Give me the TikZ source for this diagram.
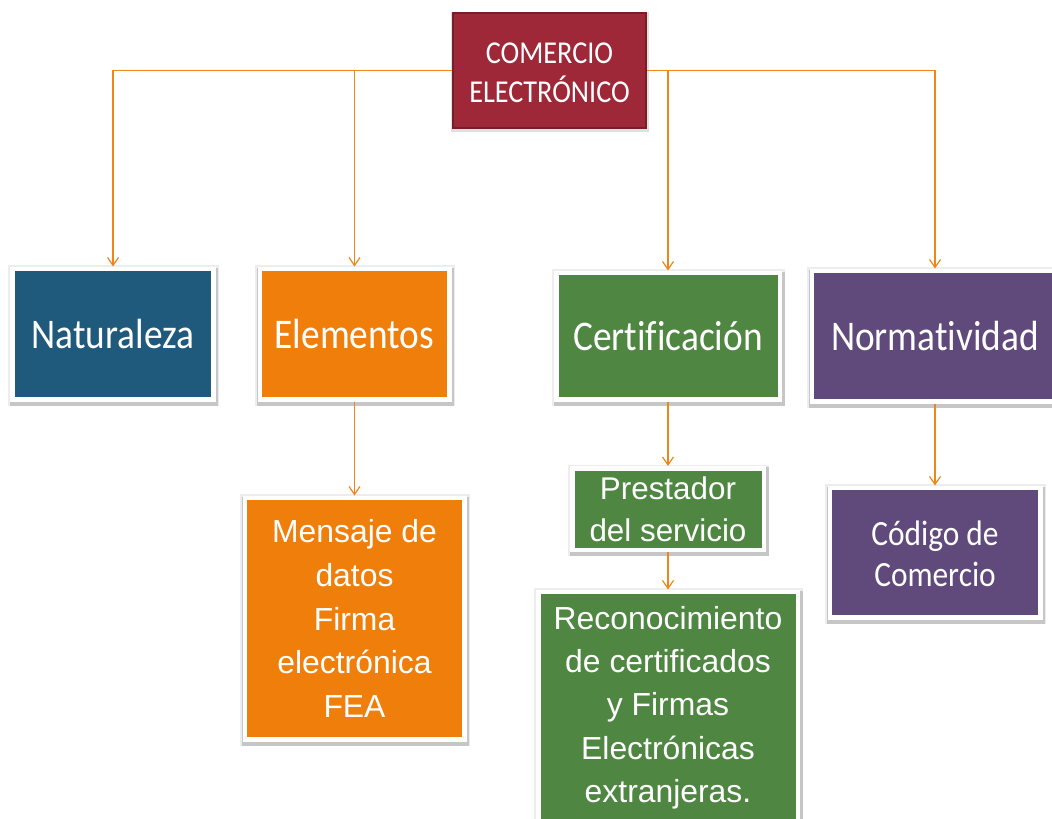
\documentclass[tikz,border=0pt]{standalone}
\usepackage{fontspec}
\usepackage{graphicx}
\setmainfont{Liberation Sans}
\newfontfamily\carlito[Ligatures=NoCommon]{Carlito}
\usetikzlibrary{arrows.meta,shadows}
\definecolor{redbox}{RGB}{158,40,56}
\definecolor{redframe}{RGB}{120,30,42}
\definecolor{bluebox}{RGB}{31,89,124}
\definecolor{orangebox}{RGB}{239,127,10}
\definecolor{greenbox}{RGB}{79,135,66}
\definecolor{purplebox}{RGB}{96,74,123}
\definecolor{lineor}{RGB}{240,134,26}
\newcommand{\tallc}[1]{\scalebox{1}[1.13]{#1}}
\newcommand{\lowerby}[2]{\raisebox{-#1}[\height][\depth]{#2}}
\begin{document}
\begin{tikzpicture}[x=1bp,y=-1bp,
  card/.style={draw=white, line width=4.5bp, inner sep=0pt, outer sep=2.25bp,
    text=white, align=center,
    preaction={draw=black, draw opacity=0.07, line width=10bp,
      transform canvas={xshift=0.5bp, yshift=-1.5bp}},
    preaction={draw=black, draw opacity=0.16, line width=7.5bp,
      transform canvas={xshift=1bp, yshift=-2.5bp}}},
  conn/.style={draw=lineor, line width=1.4bp,
    -{Straight Barb[length=8bp,width=11bp,line width=1.2bp]}},
  calib/.style={font=\carlito\fontsize{#1}{#1}\selectfont},
  arialf/.style 2 args={font=\fontsize{#1}{#2}\selectfont}
]
\useasboundingbox[fill=white] (0,0) rectangle (1052,819);

\node[draw=redframe, line width=2bp, fill=redbox, inner sep=0pt, text=white,
  minimum width=193bp, minimum height=115bp,
  preaction={draw=black, draw opacity=0.12, line width=5bp,
      transform canvas={xshift=0.6bp, yshift=-1.5bp}},
  font=\carlito\fontsize{28.3}{34.5}\selectfont] (top) at (549.5,70.5)
  {\lowerby{5bp}{\tallc{\begin{tabular}{@{}c@{}}COMERCIO\\[0pt]ELECTRÓNICO\end{tabular}}}};

\node[card, fill=bluebox, minimum width=200.5bp, minimum height=130.5bp, calib=37.5]
  (nat) at (113,334) {\tallc{Naturaleza}};
\node[card, fill=orangebox, minimum width=189.5bp, minimum height=130.5bp, calib=37.5]
  (elem) at (354.5,334) {\tallc{Elementos}};
\node[card, fill=greenbox, minimum width=223.5bp, minimum height=126.5bp, calib=37.5]
  (cert) at (668,336) {\tallc{Certificación}};
\node[card, fill=purplebox, minimum width=246.5bp, minimum height=130.5bp, calib=37.5]
  (norm) at (935,336) {\tallc{Normatividad}};

\node[card, fill=orangebox, minimum width=219.5bp, minimum height=241.5bp, arialf={32}{44}]
  (mens) at (354.5,618.5) {Mensaje de\\datos\\Firma\\electrónica\\FEA};
\node[card, fill=greenbox, minimum width=191.5bp, minimum height=81.5bp, arialf={31.5}{42}]
  (prest) at (668,509) {Prestador\\del servicio};
\node[card, fill=greenbox, minimum width=259.5bp, minimum height=231.5bp, arialf={32}{43.5}]
  (reco) at (668,707.5) {Reconocimiento\\de certificados\\y Firmas\\Electrónicas\\extranjeras.};
\node[card, fill=purplebox, minimum width=210.5bp, minimum height=129.5bp,
  font=\carlito\fontsize{31.5}{37}\selectfont]
  (cod) at (935,552.5) {\lowerby{5bp}{\tallc{\begin{tabular}{@{}c@{}}Código de\\[0pt]Comercio\end{tabular}}}};

\draw[conn] (top.west) -| (nat.north);
\draw[conn] (top.west) -| (elem.north);
\draw[conn] (top.east) -| (cert.north);
\draw[conn] (top.east) -| (norm.north);
\draw[conn] (elem.south) -- (mens.north);
\draw[conn] (cert.south) -- (prest.north);
\draw[conn] (prest.south) -- (reco.north);
\draw[conn] (norm.south) -- (cod.north);
\end{tikzpicture}
\end{document}
